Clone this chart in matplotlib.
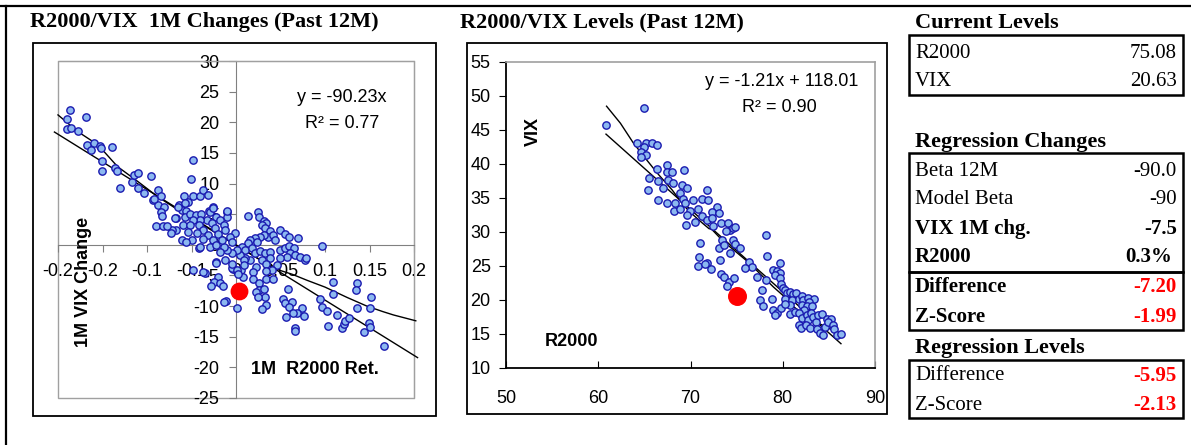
import matplotlib
matplotlib.use("Agg")
import matplotlib.pyplot as plt
import numpy as np
from matplotlib.patches import Rectangle

plt.rcParams["axes.unicode_minus"] = False

SANS = "Liberation Sans"
SERIF = "Liberation Serif"
FACE = "#8CB8F0"
EDGE = "#1A1AB0"
GREY = "#A0A0A0"

# ---- 1M changes: R2000 1M return vs VIX 1M change
chg_x = [-0.186, -0.190, -0.168, -0.190, -0.185, -0.178, -0.167, -0.159, -0.153, -0.152, -0.163, -0.139,
         -0.151, -0.151, -0.136, -0.134, -0.130, -0.117, -0.115, -0.110, -0.096, -0.110, -0.103, -0.088,
         -0.093, -0.084, -0.088, -0.081, -0.084, -0.064, -0.058, -0.054, -0.061, -0.056, -0.048, -0.040,
         -0.037, -0.031, -0.048, -0.051, -0.026, -0.030,
         0.013, 0.025, 0.026, 0.032, 0.034, 0.029, 0.033, 0.038, 0.036, 0.031, 0.027, 0.021, 0.016, 0.013,
         0.024, 0.042, 0.044, 0.049, 0.055, 0.059, 0.070, 0.097,
         0.0065, 0.010, 0.018, 0.021, 0.027, 0.033, 0.038, 0.049, 0.055, 0.060, 0.065, 0.061, 0.066, 0.072,
         0.078, 0.079, 0.057, 0.049, 0.038, 0.029, 0.034, 0.046, 0.040, 0.023, 0.016, 0.010, 0.005, 0.001,
         -0.005, -0.010, -0.014, -0.018, -0.012, -0.022, -0.003, 0.006, -0.035,
         -0.067, -0.057, -0.052, -0.045, -0.039, -0.029, -0.010, -0.010, -0.022, -0.018, -0.033, -0.040,
         -0.048, -0.059, -0.052, -0.042, -0.027, -0.014, -0.037, -0.024, -0.012, -0.067, -0.054, -0.044,
         -0.031, -0.020, -0.001, -0.007, -0.061, -0.050, -0.037, -0.026, -0.016, -0.005, -0.056, -0.042,
         -0.029, -0.022, -0.072,
         -0.090, -0.082, -0.078, -0.073, -0.068, -0.083, -0.092, -0.041, -0.026, -0.010, -0.065, -0.057,
         0.008, 0.019, 0.019, 0.034, 0.034, 0.042, 0.026, 0.026, 0.023, 0.032, 0.033, 0.025, 0.034, 0.029,
         0.058, 0.053, 0.055, 0.063, 0.060, 0.074, 0.069, 0.064, 0.076, 0.056, 0.066, 0.066, 0.094, 0.097,
         0.102, 0.109, 0.109, 0.113, 0.103, 0.119, 0.121, 0.122, 0.127, 0.136, 0.135, 0.136, 0.150, 0.152,
         0.149, 0.150, 0.144, 0.166,
         -0.048, -0.037, -0.022, -0.005, 0.0014, 0.0025, -0.020, -0.025, -0.028, -0.018, -0.011, 0.0014,
         -0.004, 0.009, 0.009, -0.015, -0.013]
chg_y = [22.0, 20.5, 20.9, 18.9, 19.1, 18.6, 16.3, 16.6, 16.2, 15.8, 15.5, 16.0,
         13.6, 12.1, 12.6, 12.0, 9.2, 10.3, 11.4, 11.8, 11.3, 9.2, 8.4, 8.9,
         7.3, 7.9, 6.5, 6.2, 5.4, 6.5, 7.9, 7.0, 5.7, 5.5, 7.9, 7.9,
         8.9, 8.1, 13.8, 10.7, 6.2, 5.5,
         4.75, 5.3, 4.6, 3.9, 3.5, 3.2, 2.7, 2.3, 1.3, 1.6, 1.3, 1.1, 0.8, 0.35,
         0.5, 1.6, 0.8, 2.4, 1.8, 1.3, 1.1, -0.14,
         -0.3, -0.85, -0.6, -1.3, -1.0, -1.4, -1.1, -0.85, -0.6, -0.2, -0.6, -1.4, -1.7, -2.0,
         -2.5, -2.2, -2.0, -2.2, -2.2, -2.5, -3.1, -3.3, -4.1, -3.6, -2.5, -2.2, -1.7, -0.85,
         -1.4, -0.85, -0.3, -1.1, -2.5, -2.75, -4.0, -4.1, -4.65,
         4.3, 4.6, 5.1, 4.9, 5.1, 5.4, 5.4, 4.6, 4.6, 4.05, 4.05, 4.05,
         4.05, 3.2, 3.2, 3.2, 3.5, 3.2, 2.5, 2.7, 2.4, 2.4, 2.1, 1.9,
         1.6, 1.8, 1.9, 1.3, 0.8, 0.8, 0.9, 0.8, 0.8, 0.5, 0.5, -0.6,
         -0.4, 0.0, 2.5,
         3.1, 3.1, 3.1, 1.9, 4.3, 4.7, 7.4, -0.3, 6.0, 5.6, 6.2, 6.8,
         -5.3, -4.4, -5.5, -4.2, -5.6, -5.5, -6.3, -7.4, -7.65, -7.25, -8.45, -8.45, -9.8, -10.5,
         -7.25, -8.9, -9.45, -9.3, -10.1, -10.3, -11.2, -11.2, -11.6, -11.7, -13.6, -14.0, -8.9, -10.1,
         -10.8, -6.0, -8.1, -11.45, -13.2, -13.6, -12.9, -12.4, -12.0, -6.3, -7.4, -10.3, -10.3, -8.55,
         -12.8, -13.4, -14.3, -16.5,
         -4.1, -4.4, -3.0, -3.8, -4.1, -4.8, -5.2, -6.0, -6.8, -6.3, -9.1, -10.3,
         -3.1, -2.5, -3.3, -6.8, -9.3]

# smoothed trend of changes (second line)
chg_curve_x = [-0.2, -0.178, -0.155, -0.133, -0.11, -0.088, -0.062, -0.03, 0.0, 0.03, 0.05, 0.063,
               0.08, 0.1, 0.125, 0.147, 0.165, 0.177, 0.202]
chg_curve_y = [21.2, 18.5, 16.3, 12.75, 10.3, 7.85, 5.4, 2.6, -0.1, -2.7, -4.2, -4.8,
               -5.8, -6.9, -8.6, -10.0, -10.9, -11.45, -12.4]
chg_slope = -90.23

# ---- Levels: R2000 vs VIX
lvl_x = [64.96, 60.84, 64.24, 65.14, 65.86, 66.33, 64.96, 64.6, 65.18, 64.6, 66.33, 67.42, 67.42, 67.96,
         69.3, 65.54, 66.51, 67.6, 67.06, 68.14, 69.04, 69.66, 65.36, 66.51, 67.42, 68.32, 68.86, 69.22,
         69.4, 70.31, 71.21, 71.93, 71.75, 68.21, 68.86, 69.95, 70.85, 72.91, 72.29,
         69.66, 69.51, 70.49, 71.21, 71.75, 72.29, 73.09, 73.27, 72.48, 74.03, 74.28, 74.64, 74.82, 73.85,
         71.03, 73.38, 74.64, 74.82, 73.13, 73.67, 74.28, 75.37, 70.96, 71.75, 70.85, 71.57, 72.19, 73.2,
         73.27, 73.63, 74.21, 74.72, 73.92, 76.38, 76.63, 75.91, 77.17, 78.18, 78.33, 79.7, 78.98, 79.41,
         79.7, 79.16, 79.7, 78.18,
         77.72, 77.54, 77.82, 78.8, 78.98, 79.34, 79.16, 79.77, 79.77, 79.99, 80.24, 80.43, 80.79, 81.15,
         81.44, 80.24, 80.97, 80.79, 80.24, 80.79, 81.33, 81.8, 82.05, 82.23, 82.77, 83.39, 82.88, 82.05,
         82.59, 83.13, 82.3, 81.8, 82.05, 81.8, 81.94, 82.59, 83.02, 82.77, 83.32, 82.52, 82.95, 83.6,
         83.86, 84.22, 83.68, 84.04, 84.58, 84.76, 85.2, 84.94, 85.41, 85.56, 84.4, 85.92, 86.31]
lvl_y = [48.2, 45.67, 43.16, 43.16, 43.16, 42.82, 42.57, 41.74, 41.34, 41.1, 39.28, 39.87, 38.79, 38.79,
         39.08, 38.0, 37.51, 37.66, 36.53, 37.17, 36.92, 36.53, 36.18, 34.71, 34.22, 34.22, 35.69, 34.86,
         34.22, 34.71, 34.86, 34.71, 36.18, 33.09, 33.38, 33.09, 33.38, 33.73, 32.99,
         32.5, 31.03, 31.52, 32.35, 31.76, 32.0, 32.84, 31.37, 30.88, 31.37, 30.29, 30.53, 30.78, 30.14,
         28.32, 28.82, 28.82, 28.23, 27.59, 28.08, 26.85, 27.59, 26.36, 25.47, 24.98, 25.28, 24.49, 25.87,
         23.76, 23.31, 22.67, 23.17, 22.04, 25.52, 24.89, 24.64, 23.41, 29.55, 26.46, 25.47, 24.4, 24.3,
         23.9, 23.66, 23.17, 22.92,
         21.45, 19.97, 19.14, 20.22, 18.5, 18.16, 17.76, 18.84, 22.28, 21.79, 21.45, 20.96, 21.2, 20.81,
         21.1, 20.22, 19.97, 19.24, 19.48, 18.0, 18.25, 20.22, 20.61, 19.97, 20.32, 20.12, 19.73, 19.24,
         19.14, 19.14, 18.5, 18.16, 17.37, 16.39, 15.9, 17.76, 18.16, 17.03, 17.52, 16.39, 15.9, 16.78,
         17.76, 18.0, 15.8, 15.21, 16.04, 17.27, 17.27, 16.78, 16.29, 15.7, 14.81, 14.81, 15.06]

lvl_curve_x = [60.9, 62.4, 63.8, 65.25, 66.5, 68.0, 69.4, 70.3, 71.3, 72.0, 72.3, 73.5, 75.0, 76.5,
               77.5, 79.0, 80.0, 81.2, 82.5, 84.0, 85.2, 86.2]
lvl_curve_y = [48.5, 46.0, 43.1, 40.6, 38.5, 36.2, 33.7, 32.5, 31.3, 30.5, 30.4, 28.7, 27.0, 25.3,
               23.9, 21.9, 20.7, 19.0, 17.6, 16.5, 15.7, 15.1]
lvl_slope, lvl_icpt = -1.21, 118.01

# current point
cur_r2000, cur_vix = 75.08, 20.63
cur_ret, cur_chg = 0.003, -7.5

chg_xticks = [-0.2, -0.15, -0.1, -0.05, 0, 0.05, 0.1, 0.15, 0.2]
chg_xlabels = ["-0.2", "-0.2", "-0.1", "-0.1", "0", "0.05", "0.1", "0.15", "0.2"]
chg_yticks = list(range(-25, 31, 5))

W, H = 1191, 445
fig = plt.figure(figsize=(W / 100, H / 100), dpi=100)


def fbox(x0, y0, x1, y1):
    return [x0 / W, 1 - y1 / H, (x1 - x0) / W, (y1 - y0) / H]


#############################################################
# left chart: changes
ax1 = fig.add_axes(fbox(58, 61, 414, 398))
ax1.set_xlim(-0.2, 0.2)
ax1.set_ylim(-25, 30)
for s in ["top", "right"]:
    ax1.spines[s].set_color(GREY)
ax1.spines["left"].set_position(("data", 0))
ax1.spines["bottom"].set_position(("data", 0))
for s in ["left", "bottom"]:
    ax1.spines[s].set_color("#808080")
ax1.add_patch(Rectangle((0, 0), 1, 1, transform=ax1.transAxes, fill=False,
                        edgecolor=GREY, lw=1.0, clip_on=False))
ax1.set_xticks(chg_xticks, chg_xlabels)
ax1.set_yticks(chg_yticks)
ax1.tick_params(axis="x", direction="out", length=5, color="#808080", pad=8, labelsize=13)
ax1.tick_params(axis="y", direction="out", length=5, color="#808080", pad=7, labelsize=13)
for lab in ax1.get_xticklabels() + ax1.get_yticklabels():
    lab.set_fontfamily(SANS)

xs = np.array(ax1.get_xlim())
ax1.plot(xs * 1.02, chg_slope * xs * 1.02, color="black", lw=1.0, zorder=3, clip_on=False)
ax1.plot(chg_curve_x, chg_curve_y, color="black", lw=1.0, zorder=3, clip_on=False)
ax1.scatter(chg_x, chg_y, s=28, facecolor=FACE, edgecolor=EDGE, linewidth=1.0, zorder=4, clip_on=False)
ax1.scatter([cur_ret], [cur_chg], s=140, color="red", zorder=5)

#############################################################
# middle chart: levels
ax2 = fig.add_axes(fbox(506, 62, 875, 368))
ax2.set_xlim(50, 90)
ax2.set_ylim(10, 55)
for s in ["top", "right"]:
    ax2.spines[s].set_color(GREY)
    ax2.spines[s].set_linewidth(1.2)
for s in ["left", "bottom"]:
    ax2.spines[s].set_color("black")
    ax2.spines[s].set_linewidth(1.3)
ax2.set_xticks(range(50, 91, 10))
ax2.set_yticks(range(10, 56, 5))
ax2.tick_params(axis="x", direction="in", length=5, pad=16, labelsize=13)
ax2.tick_params(axis="y", direction="out", length=5, pad=6, labelsize=13)
for lab in ax2.get_xticklabels() + ax2.get_yticklabels():
    lab.set_fontfamily(SANS)

lx = np.array([min(lvl_x), max(lvl_x)])
ax2.plot(lx, lvl_slope * lx + lvl_icpt, color="black", lw=1.0, zorder=3)
ax2.plot(lvl_curve_x, lvl_curve_y, color="black", lw=1.0, zorder=3)
ax2.scatter(lvl_x, lvl_y, s=28, facecolor=FACE, edgecolor=EDGE, linewidth=1.0, zorder=4)
ax2.scatter([cur_r2000], [cur_vix], s=160, color="red", zorder=5)

#############################################################
# overlay: frames, titles, annotations, table
ov = fig.add_axes([0, 0, 1, 1], zorder=10)
ov.set_xlim(0, W)
ov.set_ylim(H, 0)
ov.axis("off")
ov.patch.set_alpha(0)

ov.plot([0, W], [6, 6], color="black", lw=1.6)
ov.plot([6, 6], [6, H], color="black", lw=1.6)
ov.add_patch(Rectangle((33, 43), 403, 373, fill=False, edgecolor="black", lw=1.3))
ov.add_patch(Rectangle((467, 43), 420, 371, fill=False, edgecolor="black", lw=1.3))

ov.text(30, 22, "R2000/VIX  1M Changes (Past 12M)", family=SERIF, weight="bold", fontsize=16, va="center")
ov.text(460, 22, "R2000/VIX Levels (Past 12M)", family=SERIF, weight="bold", fontsize=16, va="center")

ov.text(342, 98, "y = -90.23x", family=SANS, fontsize=13, ha="center", va="center")
ov.text(342, 123, "R² = 0.77", family=SANS, fontsize=13, ha="center", va="center")
ov.text(315, 369, "1M  R2000 Ret.", family=SANS, weight="bold", fontsize=13, ha="center", va="center")
ov.text(83, 282, "1M VIX Change", family=SANS, weight="bold", fontsize=13, ha="center", va="center",
        rotation=90)

ov.text(858, 82, "y = -1.21x + 118.01", family=SANS, fontsize=13, ha="right", va="center")
ov.text(779, 107, "R² = 0.90", family=SANS, fontsize=13, ha="center", va="center")
ov.text(533, 131, "VIX", family=SANS, weight="bold", fontsize=13, ha="center", va="center", rotation=90)
ov.text(572, 342, "R2000", family=SANS, weight="bold", fontsize=13, ha="center", va="center")

# table
TL, TR, VR = 909, 1183, 1177
ov.text(915, 23, "Current Levels", family=SERIF, weight="bold", fontsize=16, va="center")
ov.text(915, 142, "Regression Changes", family=SERIF, weight="bold", fontsize=16, va="center")
ov.text(915, 348, "Regression Levels", family=SERIF, weight="bold", fontsize=16, va="center")
for y0, y1 in [(35, 95), (153, 272), (272, 330), (360, 418)]:
    ov.add_patch(Rectangle((TL, y0), TR - TL, y1 - y0, fill=False, edgecolor="black", lw=1.8))

rows = [
    (53, "R2000", "75.08", "normal", "black", VR),
    (82, "VIX", "20.63", "normal", "black", VR),
    (172, "Beta 12M", "-90.0", "normal", "black", VR),
    (200, "Model Beta", "-90", "normal", "black", VR),
    (229, "VIX 1M chg.", "-7.5", "bold", "black", VR),
    (257, "R2000", "0.3%", "bold", "black", 1172),
    (287, "Difference", "-7.20", "bold", "red", VR),
    (317, "Z-Score", "-1.99", "bold", "red", VR),
    (376, "Difference", "-5.95", "normal", "red", VR),
    (405, "Z-Score", "-2.13", "normal", "red", VR),
]
for y, name, val, wt, col, xr in rows:
    ov.text(915, y, name, family=SERIF, weight=wt, fontsize=15, va="center")
    vwt = "bold" if col == "red" else wt
    ov.text(xr, y, val, family=SERIF, weight=vwt, fontsize=15, va="center", ha="right", color=col)

plt.savefig("out.png", dpi=100)
